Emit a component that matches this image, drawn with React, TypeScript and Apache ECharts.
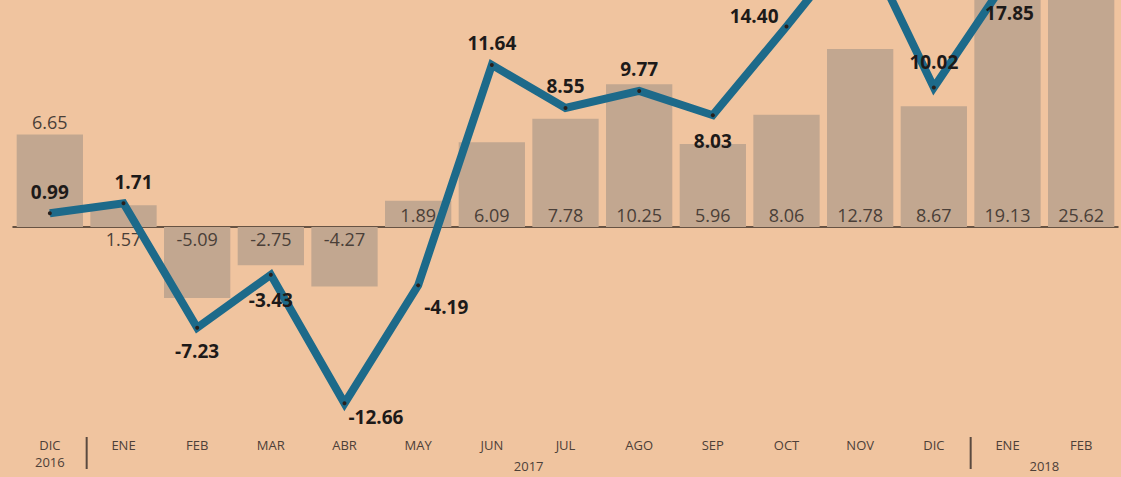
import React, { useEffect, useRef } from "react";
import * as echarts from "echarts";

const months = ["DIC", "ENE", "FEB", "MAR", "ABR", "MAY", "JUN", "JUL", "AGO", "SEP", "OCT", "NOV", "DIC", "ENE", "FEB"];
const monthLabels = ["DIC\n2016", "ENE", "FEB", "MAR", "ABR", "MAY", "JUN", "JUL", "AGO", "SEP", "OCT", "NOV", "DIC", "ENE", "FEB"];
const barValues = [6.65, 1.57, -5.09, -2.75, -4.27, 1.89, 6.09, 7.78, 10.25, 5.96, 8.06, 12.78, 8.67, 19.13, 25.62];
const lineValues = [0.99, 1.71, -7.23, -3.43, -12.66, -4.19, 11.64, 8.55, 9.77, 8.03, 14.4, 21.0, 10.02, 17.85, 23.5];
const yearLabels = ["2017", "2018"];
// year separators sit between these category pairs; year labels between these pairs
const separatorAfter = [0, 12];
const yearLabelAfter = [6, 13];

// label placement per point (style only)
const barLabelPos = ["top", "bottom", "insideTop", "insideTop", "insideTop", "insideBottom", "insideBottom", "insideBottom", "insideBottom", "insideBottom", "insideBottom", "insideBottom", "insideBottom", "insideBottom", "insideBottom"];
const lineLabelCfg: any[] = [
  { position: "top", distance: 10 },
  { position: "top", distance: 10, offset: [10, 0] },
  { position: "bottom", distance: 12 },
  { position: "bottom", distance: 14 },
  { position: "right", distance: 2, offset: [0, 14] },
  { position: "right", distance: 4, offset: [0, 22] },
  { position: "top", distance: 10 },
  { position: "top", distance: 10 },
  { position: "top", distance: 10 },
  { position: "bottom", distance: 14 },
  { position: "left", distance: 6, offset: [0, -10] },
  { show: false },
  { position: "top", distance: 14 },
  { position: "bottom", distance: 23, offset: [2, 0] },
  { show: false },
];

const fmt = (v: number) => v.toFixed(2);

export default function App() {
  const ref = useRef<HTMLDivElement>(null);
  useEffect(() => {
    if (!ref.current) return;
    const chart = echarts.init(ref.current, null, { renderer: "svg" });
    const font = "'Open Sans', 'Noto Sans', sans-serif";
    const textColor = "#4d4038";
    chart.setOption({
      animation: false,
      backgroundColor: "#f0c49f",
      grid: { left: 13, right: 3, top: 0, bottom: 55, containLabel: false },
      xAxis: [
        {
          type: "category",
          data: months,
          axisLine: { show: true, onZero: true, lineStyle: { color: "#3a2e26", width: 1.5 } },
          axisTick: { show: false },
          axisLabel: { show: false },
          splitLine: { show: false },
        },
        {
          type: "category",
          data: monthLabels,
          position: "bottom",
          offset: 12,
          axisLine: { show: false },
          axisTick: { show: false },
          axisLabel: {
            show: true,
            interval: 0,
            margin: 2,
            color: textColor,
            fontFamily: font,
            fontSize: 13,
            lineHeight: 17,
          },
        },
      ],
      yAxis: {
        type: "value",
        min: -14,
        max: 16.3,
        show: false,
        splitLine: { show: false },
      },
      series: [
        {
          type: "bar",
          xAxisIndex: 0,
          clip: false,
          data: barValues.map((v, i) => ({
            value: v,
            label: { position: barLabelPos[i] },
          })),
          barCategoryGap: "10%",
          itemStyle: { color: "#c2a790" },
          label: {
            show: true,
            formatter: (p: any) => fmt(p.value),
            color: "#4a3f38",
            fontFamily: font,
            fontSize: 18,
            distance: 3,
          },
          z: 1,
        },
        {
          type: "line",
          xAxisIndex: 0,
          clip: false,
          data: lineValues.map((v, i) => ({ value: v, label: lineLabelCfg[i] })),
          lineStyle: { color: "#1d6a8a", width: 8, join: "miter", cap: "butt" },
          symbol: "circle",
          symbolSize: 4,
          itemStyle: { color: "#2a201c" },
          label: {
            show: true,
            formatter: (p: any) => fmt(p.value),
            color: "#1d1a19",
            fontFamily: font,
            fontWeight: "bold",
            fontSize: 19,
          },
          z: 3,
        },
      ],
    });

    const px = (i: number) => chart.convertToPixel({ xAxisIndex: 0 }, i) as number;
    const mid = (i: number) => (px(i) + px(i + 1)) / 2;
    const graphics: any[] = [];
    separatorAfter.forEach((i) => {
      const x = mid(i);
      graphics.push({
        type: "line",
        shape: { x1: x, y1: 437, x2: x, y2: 469 },
        style: { stroke: "#5a4a40", lineWidth: 2 },
      });
    });
    yearLabelAfter.forEach((i, k) => {
      graphics.push({
        type: "text",
        x: mid(i),
        y: 466,
        style: {
          text: yearLabels[k],
          fill: textColor,
          font: `13px ${font}`,
          align: "center",
          verticalAlign: "middle",
        },
      });
    });
    chart.setOption({ graphic: graphics });

    return () => chart.dispose();
  }, []);
  return (
    <div
      ref={ref}
      style={{ position: "fixed", left: 0, top: 0, width: 1121, height: 477 }}
    />
  );
}
